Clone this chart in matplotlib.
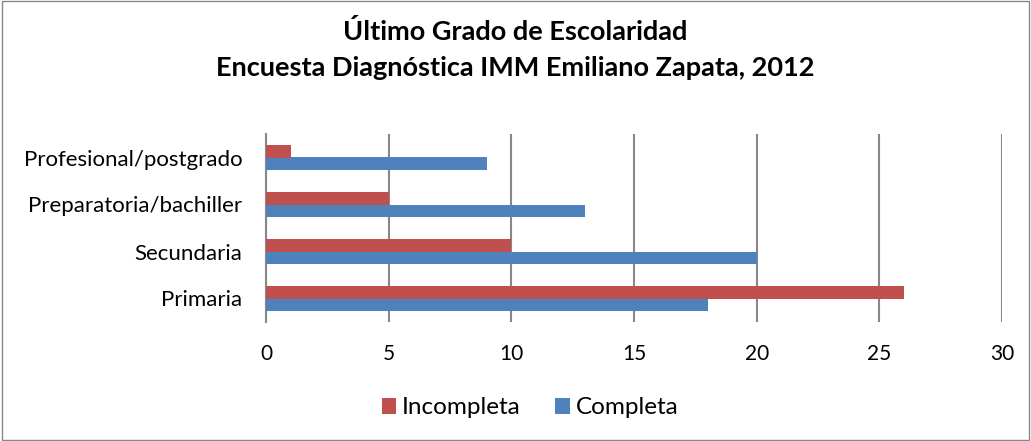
import numpy as np
import matplotlib.pyplot as plt
from matplotlib.patches import Rectangle

plt.rcParams['font.family'] = ['Lato', 'DejaVu Sans']

# data
categories = ['Primaria', 'Secundaria', 'Preparatoria/bachiller', 'Profesional/postgrado']
incompleta = [26, 10, 5, 1]
completa = [18, 20, 13, 9]

red = '#C0504D'
blue = '#4F81BD'

fig = plt.figure(figsize=(10.31, 4.41), dpi=100)
ax = fig.add_axes([266 / 1031, 1 - 322 / 441, 736 / 1031, 188 / 441])

y = np.arange(len(categories))
h = 0.265
ax.barh(y - h / 2, completa, height=h, color=blue, label='Completa', zorder=3)
ax.barh(y + h / 2, incompleta, height=h, color=red, label='Incompleta', zorder=3)

ax.set_xlim(0, 30)
ax.set_ylim(-0.5, len(categories) - 0.5)
ax.set_xticks(range(0, 31, 5))
ax.set_yticks(y)
ax.set_yticklabels(categories)
ax.tick_params(axis='both', length=0, labelsize=16)
ax.tick_params(axis='x', labelsize=15, pad=16)
ax.tick_params(axis='y', pad=17)
ax.grid(axis='x', color='#888888', linewidth=1.5, zorder=0)
for s in ['top', 'right', 'bottom']:
    ax.spines[s].set_visible(False)
ax.spines['left'].set_color('#888888')
ax.spines['left'].set_linewidth(1.5)

fig.text(0.5, 1 - 32 / 441, 'Último Grado de Escolaridad', ha='center', va='center',
         fontsize=19.5, fontweight='bold')
fig.text(0.5, 1 - 68 / 441, 'Encuesta Diagnóstica IMM Emiliano Zapata, 2012', ha='center',
         va='center', fontsize=19.5, fontweight='bold')

handles, labels = ax.get_legend_handles_labels()
fig.legend(handles[::-1], labels[::-1], loc='center', bbox_to_anchor=(530 / 1031, 1 - 408 / 441),
           ncol=2, frameon=False, fontsize=17.5, handlelength=0.6, handleheight=0.6,
           handletextpad=0.25, columnspacing=1.4)

fig.patches.append(Rectangle((0.002, 0.003), 0.996, 0.994, transform=fig.transFigure,
                             fill=False, edgecolor='#888888', linewidth=1))

fig.savefig('out.png', dpi=100)
